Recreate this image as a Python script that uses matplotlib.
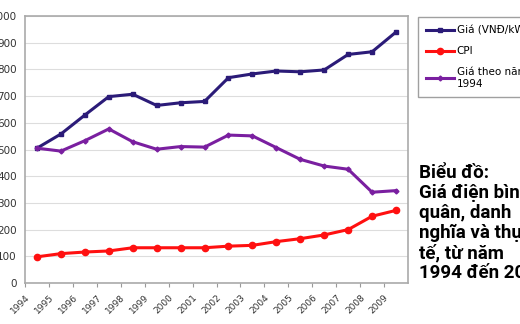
import matplotlib
matplotlib.use("Agg")
import matplotlib.pyplot as plt
import numpy as np

years = [str(y) for y in range(1994, 2010)]
gia = [505, 558, 629, 698, 707, 665, 675, 680, 769, 783, 794, 791, 798, 856, 866, 940]
cpi = [98, 110, 116, 120, 132, 132, 132, 132, 138, 141, 155, 166, 180, 200, 250, 272]
gia_1994 = [505, 494, 533, 577, 529, 501, 511, 509, 554, 551, 507, 463, 438, 426, 340, 346]
series_labels = ["Giá (VNĐ/kWh)", "CPI", "Giá theo năm\n1994"]
title_text = "Biểu đồ:\nGiá điện bình\nquân, danh\nnghĩa và thực\ntế, từ năm\n1994 đến 2009"

fig = plt.figure(figsize=(5.2, 3.24), dpi=100)
ax = fig.add_axes([25/520, 41/324, 383/520, 267/324])
x = np.arange(len(years))

ax.plot(x, gia, color="#2B1B78", lw=2.2, marker="s", ms=3.5, label=series_labels[0])
ax.plot(x, cpi, color="#FF1010", lw=2.2, marker="o", ms=4.5, label=series_labels[1])
ax.plot(x, gia_1994, color="#7A1FA0", lw=2.2, marker="D", ms=2.5, label=series_labels[2])

ax.set_xlim(-0.5, len(years) - 0.5)
ax.set_ylim(0, 1000)
ax.set_yticks(np.arange(0, 1001, 100))
ax.tick_params(axis="y", labelsize=7.5, length=0, pad=6, colors="#333333")
ax.set_xticks(x - 0.5)
ax.set_xticklabels(years, rotation=45, ha="right", rotation_mode="anchor", fontsize=6.5, color="#333333")
ax.tick_params(axis="x", length=3, color="#999999", pad=4)
ax.grid(axis="y", color="#dddddd", lw=0.8)
ax.set_axisbelow(True)
for s in ax.spines.values():
    s.set_color("#aaaaaa")
    s.set_linewidth(1.2)

leg = fig.legend(loc="upper left", bbox_to_anchor=(418/520, 1 - 17/324), fontsize=7.5,
                 frameon=True, fancybox=False, edgecolor="#888888", handlelength=2.7,
                 borderpad=0.8, labelspacing=1.05, handletextpad=0.2, borderaxespad=0)
leg.get_frame().set_linewidth(1.0)

fig.text(419/520, 1 - 164/324, title_text, ha="left", va="top", fontsize=13.5,
         fontweight="bold", family=["Roboto", "DejaVu Sans"], linespacing=1.13)

fig.savefig("out.png", dpi=100)
